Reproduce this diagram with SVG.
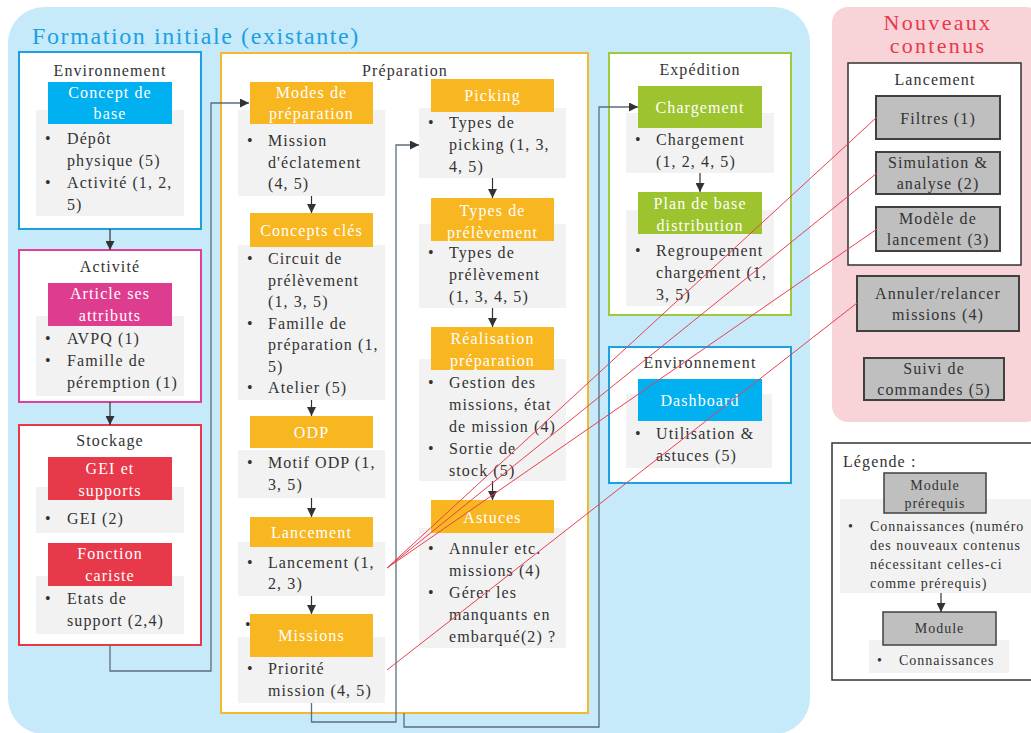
<svg xmlns="http://www.w3.org/2000/svg" width="1031" height="733" viewBox="0 0 1031 733">
<style>
text{font-family:"Liberation Serif","Times New Roman",serif;fill:#333;font-size:16px;letter-spacing:1.1px}
.t{text-anchor:middle}
.h{fill:#fff;text-anchor:middle}
.big{font-size:24px;letter-spacing:1.6px}
.nv{font-size:22px;letter-spacing:2.3px}
.g{fill:#f2f2f2}
.box{fill:#fff;stroke-width:2}
.blue{stroke:#1ba1e2}.mag{stroke:#e0409a}.red{stroke:#e8394a}.org{stroke:#f5b82e}.grn{stroke:#9ccb3b}
.hb{fill:#00b0f0}.hm{fill:#de3c8f}.hr{fill:#e8394a}.ho{fill:#f8b620}.hg{fill:#9dc32f}
.nb{fill:#bfbfbf;stroke:#404040;stroke-width:2}
.blk{fill:#fff;stroke:#333;stroke-width:1.5}
.sm{font-size:14px;letter-spacing:1px}
.c{fill:none;stroke:#5b6e7f;stroke-width:1.3}
.a{fill:none;stroke:#333;stroke-width:1.2}
.rl{fill:none;stroke:#e84050;stroke-width:1}
</style>
<defs>
<marker id="arr" viewBox="0 0 10 10" refX="10" refY="5" markerWidth="9" markerHeight="9" markerUnits="userSpaceOnUse" orient="auto"><path d="M0,0 L10,5 L0,10 z" fill="#333"/></marker>
</defs>
<rect x="8" y="7" width="802" height="727" rx="36" fill="#c6eafa"/>
<text x="32" y="44" class="big" style="fill:#1ba1e2">Formation initiale (existante)</text>
<rect x="832" y="7" width="210" height="415" rx="16" fill="#f8d3d8"/>
<text x="938" y="30" class="nv t" style="fill:#e8394a">Nouveaux</text>
<text x="938" y="53" class="nv t" style="fill:#e8394a">contenus</text>

<g id="env1">
<rect x="19" y="52" width="182" height="177" class="box blue"/>
<text x="110" y="76" class="t">Environnement</text>
<rect x="36" y="110" width="148" height="106" class="g"/>
<rect x="48" y="82" width="124" height="42" class="hb"/>
<text x="110" y="98" class="h">Concept de</text>
<text x="110" y="119" class="h">base</text>
<text x="45" y="144">•</text><text x="67" y="144">Dépôt</text>
<text x="67" y="166">physique (5)</text>
<text x="45" y="188">•</text><text x="67" y="188">Activité (1, 2,</text>
<text x="67" y="210">5)</text>
</g>

<g id="activite">
<rect x="19" y="250" width="182" height="152" class="box mag"/>
<text x="110" y="272" class="t">Activité</text>
<rect x="36" y="316" width="148" height="80" class="g"/>
<rect x="48" y="283" width="124" height="43" class="hm"/>
<text x="110" y="299" class="h">Article ses</text>
<text x="110" y="321" class="h">attributs</text>
<text x="45" y="344">•</text><text x="67" y="344">AVPQ (1)</text>
<text x="45" y="366">•</text><text x="67" y="366">Famille de</text>
<text x="67" y="388">péremption (1)</text>
</g>

<g id="stockage">
<rect x="19" y="425" width="182" height="220" class="box red"/>
<text x="110" y="446" class="t">Stockage</text>
<rect x="36" y="487" width="148" height="46" class="g"/>
<rect x="48" y="457" width="124" height="43" class="hr"/>
<text x="110" y="474" class="h">GEI et</text>
<text x="110" y="496" class="h">supports</text>
<text x="45" y="524">•</text><text x="67" y="524">GEI (2)</text>
<rect x="36" y="576" width="148" height="58" class="g"/>
<rect x="48" y="543" width="124" height="43" class="hr"/>
<text x="110" y="559" class="h">Fonction</text>
<text x="110" y="581" class="h">cariste</text>
<text x="45" y="604">•</text><text x="67" y="604">Etats de</text>
<text x="67" y="626">support (2,4)</text>
</g>

<g id="preparation">
<rect x="221" y="53" width="367" height="660" class="box org"/>
<text x="405" y="76" class="t">Préparation</text>
</g>

<g id="modes">
<rect x="238" y="110" width="147" height="86" class="g"/>
<rect x="250" y="82" width="123" height="42" class="ho"/>
<text x="311.5" y="98" class="h">Modes de</text>
<text x="311.5" y="119" class="h">préparation</text>
<text x="247" y="146">•</text><text x="268" y="146">Mission</text>
<text x="268" y="167.5">d'éclatement</text>
<text x="268" y="189">(4, 5)</text>
</g>

<g id="concepts">
<rect x="238" y="245" width="147" height="155" class="g"/>
<rect x="250" y="213" width="123" height="34" class="ho"/>
<text x="311.5" y="236" class="h">Concepts clés</text>
<text x="247" y="264">•</text><text x="268" y="264">Circuit de</text>
<text x="268" y="285.5">prélèvement</text>
<text x="268" y="307">(1, 3, 5)</text>
<text x="247" y="328.5">•</text><text x="268" y="328.5">Famille de</text>
<text x="268" y="350">préparation (1,</text>
<text x="268" y="371.5">5)</text>
<text x="247" y="393">•</text><text x="268" y="393">Atelier (5)</text>
</g>

<g id="odp">
<rect x="238" y="450" width="147" height="48" class="g"/>
<rect x="250" y="416" width="123" height="32" class="ho"/>
<text x="311.5" y="438" class="h">ODP</text>
<text x="247" y="468">•</text><text x="268" y="468">Motif ODP (1,</text>
<text x="268" y="490">3, 5)</text>
</g>

<g id="lancement">
<rect x="238" y="542" width="147" height="54" class="g"/>
<rect x="250" y="517" width="123" height="30" class="ho"/>
<text x="311.5" y="538" class="h">Lancement</text>
<text x="247" y="568">•</text><text x="268" y="568">Lancement (1,</text>
<text x="268" y="589">2, 3)</text>
</g>

<g id="missions">
<text x="245" y="630">•</text>
<rect x="238" y="637" width="147" height="66" class="g"/>
<rect x="250" y="614" width="123" height="43" class="ho"/>
<text x="311.5" y="641" class="h">Missions</text>
<text x="247" y="674">•</text><text x="268" y="674">Priorité</text>
<text x="268" y="696">mission (4, 5)</text>
</g>

<g id="picking">
<rect x="419" y="108" width="147" height="70" class="g"/>
<rect x="431" y="79" width="123" height="33" class="ho"/>
<text x="492.5" y="101" class="h">Picking</text>
<text x="428" y="128">•</text><text x="449" y="128">Types de</text>
<text x="449" y="150">picking (1, 3,</text>
<text x="449" y="172">4, 5)</text>
</g>

<g id="types">
<rect x="419" y="224" width="147" height="84" class="g"/>
<rect x="431" y="198" width="123" height="43" class="ho"/>
<text x="492.5" y="216" class="h">Types de</text>
<text x="492.5" y="238" class="h">prélèvement</text>
<text x="428" y="258">•</text><text x="449" y="258">Types de</text>
<text x="449" y="280">prélèvement</text>
<text x="449" y="302">(1, 3, 4, 5)</text>
</g>

<g id="realisation">
<rect x="419" y="359" width="147" height="122" class="g"/>
<rect x="431" y="327" width="123" height="43" class="ho"/>
<text x="492.5" y="344" class="h">Réalisation</text>
<text x="492.5" y="366" class="h">préparation</text>
<text x="428" y="388">•</text><text x="449" y="388">Gestion des</text>
<text x="449" y="410">missions, état</text>
<text x="449" y="432">de mission (4)</text>
<text x="428" y="454">•</text><text x="449" y="454">Sortie de</text>
<text x="449" y="476">stock (5)</text>
</g>

<g id="astuces">
<rect x="419" y="528" width="147" height="120" class="g"/>
<rect x="431" y="500" width="123" height="33" class="ho"/>
<text x="492.5" y="523" class="h">Astuces</text>
<text x="428" y="554">•</text><text x="449" y="554">Annuler etc.</text>
<text x="449" y="576">missions (4)</text>
<text x="428" y="598">•</text><text x="449" y="598">Gérer les</text>
<text x="449" y="620">manquants en</text>
<text x="449" y="642">embarqué(2) ?</text>
</g>

<g id="expedition">
<rect x="609" y="53" width="182" height="262" class="box grn"/>
<text x="700" y="75" class="t">Expédition</text>
</g>
<g id="chargement">
<rect x="626" y="113" width="148" height="60" class="g"/>
<rect x="638" y="86" width="124" height="42" class="hg"/>
<text x="700" y="113" class="h">Chargement</text>
<text x="635" y="145">•</text><text x="656" y="145">Chargement</text>
<text x="656" y="167">(1, 2, 4, 5)</text>
</g>
<g id="plan">
<rect x="626" y="210" width="148" height="96" class="g"/>
<rect x="638" y="192" width="124" height="42" class="hg"/>
<text x="700" y="209" class="h">Plan de base</text>
<text x="700" y="231" class="h">distribution</text>
<text x="635" y="256">•</text><text x="656" y="256">Regroupement</text>
<text x="656" y="278">chargement (1,</text>
<text x="656" y="300">3, 5)</text>
</g>

<g id="env2">
<rect x="609" y="347" width="182" height="136" class="box blue"/>
<text x="700" y="368" class="t">Environnement</text>
<rect x="626" y="394" width="146" height="74" class="g"/>
<rect x="638" y="379" width="124" height="42" class="hb"/>
<text x="700" y="406" class="h">Dashboard</text>
<text x="635" y="439">•</text><text x="656" y="439">Utilisation &amp;</text>
<text x="656" y="461">astuces (5)</text>
</g>

<g id="nouveau-lancement">
<rect x="848" y="63" width="173" height="202" class="blk"/>
<text x="935" y="85" class="t">Lancement</text>
</g>
<g id="filtres">
<rect x="876" y="96" width="124" height="43" class="nb"/>
<text x="938" y="124" class="t">Filtres (1)</text>
</g>
<g id="simulation">
<rect x="876" y="152" width="124" height="42" class="nb"/>
<text x="938" y="168" class="t">Simulation &amp;</text>
<text x="938" y="189" class="t">analyse (2)</text>
</g>
<g id="modele">
<rect x="876" y="207" width="124" height="44" class="nb"/>
<text x="938" y="224" class="t">Modèle de</text>
<text x="938" y="245" class="t">lancement (3)</text>
</g>
<g id="annuler">
<rect x="857" y="276" width="162" height="55" class="nb"/>
<text x="938" y="299" class="t">Annuler/relancer</text>
<text x="938" y="320" class="t">missions (4)</text>
</g>
<g id="suivi">
<rect x="864" y="358" width="140" height="42" class="nb"/>
<text x="934" y="374" class="t">Suivi de</text>
<text x="934" y="395" class="t">commandes (5)</text>
</g>

<g id="legende">
<rect x="832" y="443" width="210" height="237" class="blk"/>
<text x="843" y="467">Légende :</text>
<rect x="840" y="499" width="200" height="94" class="g"/>
<rect x="884" y="473" width="102" height="40" class="nb" style="stroke-width:1.5"/>
<text x="935" y="490" class="t sm">Module</text>
<text x="935" y="508" class="t sm">prérequis</text>
<text x="848" y="531" class="sm">•</text><text x="870" y="531" class="sm">Connaissances (numéro</text>
<text x="870" y="550" class="sm">des nouveaux contenus</text>
<text x="870" y="569" class="sm">nécessitant celles-ci</text>
<text x="870" y="588" class="sm">comme prérequis)</text>
<rect x="869" y="640" width="140" height="33" class="g"/>
<rect x="883" y="612" width="113" height="33" class="nb" style="stroke-width:1.5"/>
<text x="939.5" y="633" class="t sm">Module</text>
<text x="877" y="665" class="sm">•</text><text x="899" y="665" class="sm">Connaissances</text>
</g>

<g id="connectors">
<path d="M110,229 V250" class="a" marker-end="url(#arr)"/>
<path d="M110,402 V425" class="a" marker-end="url(#arr)"/>
<path d="M110,645 V671 H211 V103 H249" class="c" marker-end="url(#arr)"/>
<path d="M311.5,196 V213" class="a" marker-end="url(#arr)"/>
<path d="M311.5,400 V416" class="a" marker-end="url(#arr)"/>
<path d="M311.5,498 V517" class="a" marker-end="url(#arr)"/>
<path d="M311.5,596 V614" class="a" marker-end="url(#arr)"/>
<path d="M311.5,703 V722 H396 V145 H419" class="c" marker-end="url(#arr)"/>
<path d="M492.5,178 V198" class="a" marker-end="url(#arr)"/>
<path d="M492.5,308 V327" class="a" marker-end="url(#arr)"/>
<path d="M492.5,481 V500" class="a" marker-end="url(#arr)"/>
<path d="M404,713 V727 H599 V107 H638" class="c" marker-end="url(#arr)"/>
<path d="M700,173 V192" class="a" marker-end="url(#arr)"/>
<path d="M941,593 V612" class="a" marker-end="url(#arr)"/>
<path d="M387,568 L877,117" class="rl"/>
<path d="M387,568 L877,173" class="rl"/>
<path d="M387,568 L877,229" class="rl"/>
<path d="M387,670 L857,303" class="rl"/>
</g>
</svg>
